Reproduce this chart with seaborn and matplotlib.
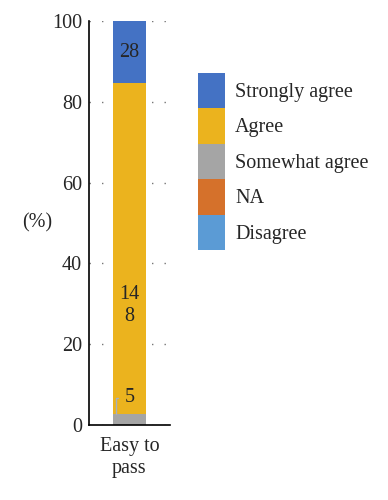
import matplotlib
matplotlib.use('Agg')
import matplotlib.pyplot as plt
from matplotlib.patches import Patch
import numpy as np
import pandas as pd
import seaborn as sns

# data (counts of answers)
question = 'Easy to\npass'
categories = ['Strongly agree', 'Agree', 'Somewhat agree', 'NA', 'Disagree']
counts = [28, 148, 5, 0, 0]
colors = ['#4472C4', '#EBB31E', '#A5A5A5', '#D5712B', '#5B9BD5']
seg_labels = ['28', '14\n8', '5', '', '']

FS = 14.5
sns.set_style('white')
plt.rcParams['font.family'] = ['Liberation Serif', 'DejaVu Serif']
plt.rcParams['font.size'] = FS

pct = np.array(counts) / sum(counts) * 100
# stacked from the bottom: Disagree, NA, Somewhat agree, Agree, Strongly agree
tops = np.cumsum(pct[::-1])[::-1]

fig = plt.figure(figsize=(3.88, 5), dpi=100)
ax = fig.add_axes([0.229, 0.15, 0.209, 0.808])

# draw tallest first so each layer covers the one above it
for cat, top, col in zip(categories, tops, colors):
    if top <= 0:
        continue
    df = pd.DataFrame({'q': [question], 'v': [top]})
    sns.barplot(data=df, x='q', y='v', color=col, width=0.41,
                saturation=1, linewidth=0, ax=ax, zorder=2)

# segment labels
bottoms = tops - pct
ax.text(0, (tops[0] + bottoms[0]) / 2, seg_labels[0], ha='center', va='center', fontsize=FS)
ax.text(0, 29.5, seg_labels[1], ha='center', va='center', fontsize=FS, linespacing=1.2)
ax.annotate(seg_labels[2], xy=(-0.17, tops[2]), xytext=(0.0, 6.7),
            ha='center', va='center', fontsize=FS,
            arrowprops=dict(arrowstyle='-', color='#A5B0C0', lw=1,
                            shrinkA=2, shrinkB=0, relpos=(0, 0.5),
                            connectionstyle='angle,angleA=180,angleB=90,rad=0'))

ax.set_xlim(-0.5, 0.5)
ax.set_ylim(0, 100)
ax.set_yticks(np.arange(0, 101, 20))
ax.set_xlabel('')
ax.set_ylabel('(%)', rotation=0, labelpad=0, ha='right', va='center', fontsize=FS)
ax.tick_params(axis='both', length=0, labelsize=FS)
ax.tick_params(axis='y', pad=5)
ax.tick_params(axis='x', pad=9)
ax.yaxis.grid(True, linestyle=(0, (1, 8)), color='#777777', linewidth=1, zorder=0)
ax.set_axisbelow(True)
sns.despine(ax=ax, top=True, right=True)
for s in ['left', 'bottom']:
    ax.spines[s].set_color('black')
    ax.spines[s].set_linewidth(1.2)

# legend swatches stacked into one continuous column
px = FS * 100 / 72
box_h = 35.4 / px
hh = (box_h - 0.245) / 0.65
handles = [Patch(facecolor=c, edgecolor='none') for c in colors]
fig.legend(handles, categories, loc='upper left',
           bbox_to_anchor=(198 / 388, 1 - 73 / 500), frameon=False,
           fontsize=FS, borderpad=0, borderaxespad=0,
           handlelength=27 / px, handleheight=hh, labelspacing=0,
           handletextpad=10 / px)

fig.savefig('out.png', dpi=100)
